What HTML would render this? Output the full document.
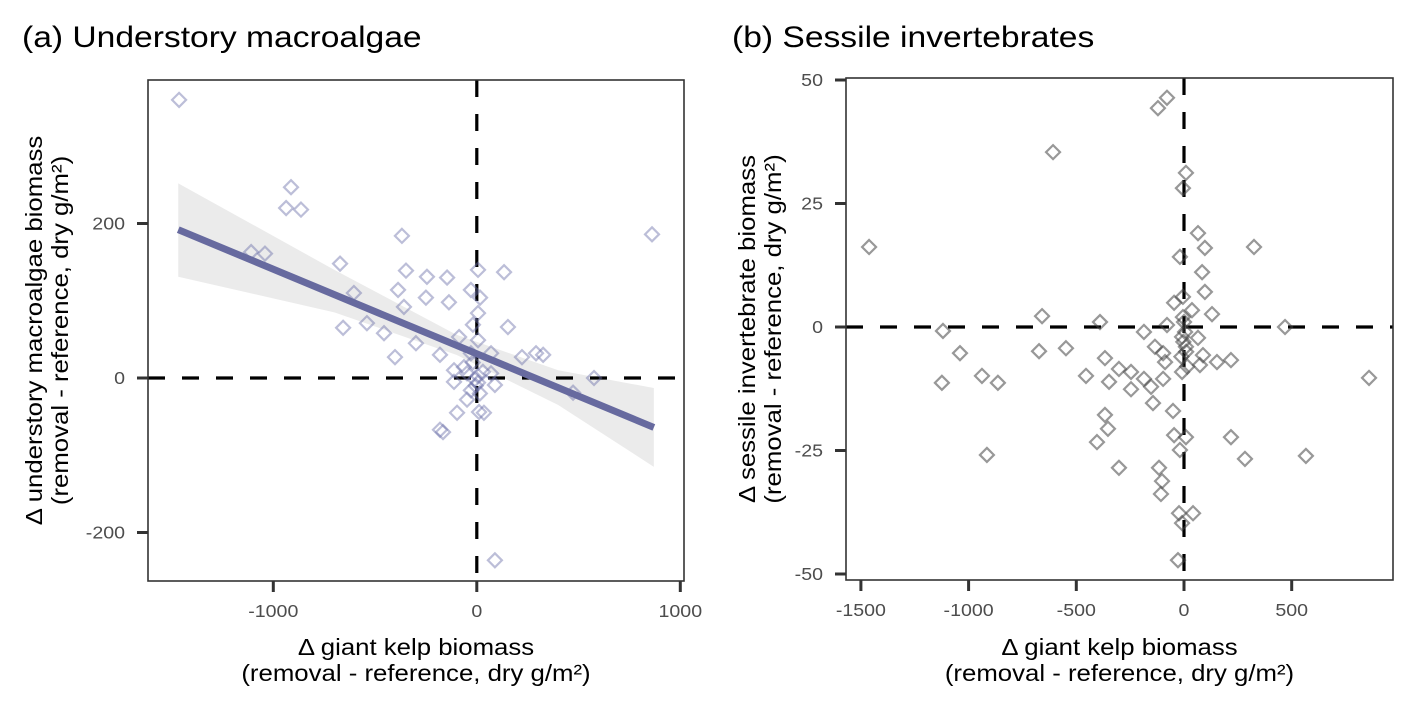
<!DOCTYPE html>
<html><head><meta charset="utf-8"><style>
html,body{margin:0;padding:0;background:#fff;}
svg{display:block;font-family:"Liberation Sans",Arial,sans-serif;}
</style></head><body>
<svg id="chart" width="1417" height="708" viewBox="0 0 1417 708"></svg>
<script>
// Panel (a) data
const aX = [-1463,-913,-937,-864,-368,861,-1109,-1041,-672,-348,-245,-146,6,134,-387,-29,-604,-250,-137,16,-358,6,-540,-657,-456,-19,153,-299,-87,6,-181,-402,70,222,291,326,-112,-48,576,-112,6,89,-29,473,-48,-97,11,35,-181,-166,89,-63,30,-29,70,-10,5,-20,15,-5];
const aY = [360,247,220,218,184,186,163,161,148,139,131,130,140,137,114,114,110,104,98,104,92,84,71,65,58,69,66,45,53,49,30,27,32,27,32,30,10,6,0,-5,-6,-9,-16,-19,-28,-45,-44,-45,-67,-70,-236,14,8,32,6,-2,3,20,-20,-10];
const fitX = [-1467, 870];
const fitY = [192, -64];
const bandX = [-1467, -700, -100, 400, 870];
const bandHi = [252, 140, 56, 10, -13];
const bandLo = [131, 85, 30, -35, -115];
const aXTicks = [-1000, 0, 1000];
const aYTicks = [-200, 0, 200];
// Panel (b) data
const bX = [-79,-121,-608,9,-5,-1462,65,97,325,-19,84,97,-5,-46,37,130,-659,-5,-390,469,-1119,-79,-186,65,-9,-1040,-673,-548,-135,-97,9,-367,88,153,218,-88,74,-302,-246,-9,-455,-938,-1124,-864,859,-348,-186,-97,-246,-153,-144,-51,-367,-353,-404,-46,9,-19,218,-915,283,566,-302,-116,-102,-107,-23,42,-9,-28,5,-3,10,0,-12,15];
const bY = [46.4,44.3,35.4,31.2,28.1,16.2,19,16,16.2,14.2,11.1,7.1,6.1,4.9,3.4,2.6,2.2,2,1,0,-0.8,0.4,-1,-2.2,-2,-5.3,-4.9,-4.3,-4,-5.3,-4,-6.3,-5.7,-7.1,-6.7,-7.1,-7.7,-8.5,-9.1,-9.1,-9.9,-9.9,-11.3,-11.3,-10.3,-11.1,-10.5,-10.5,-12.6,-12.1,-15.4,-17,-17.8,-20.6,-23.3,-21.9,-22.3,-24.9,-22.3,-25.9,-26.7,-26.1,-28.5,-28.5,-31.2,-33.8,-37.7,-37.7,-39.7,-47.2,-1,-3,-5,1,-6,-8];
const bXTicks = [-1500, -1000, -500, 0, 500];
const bYTicks = [-50, -25, 0, 25, 50];

const NS = "http://www.w3.org/2000/svg";
const svg = document.getElementById('chart');
const WIDEN = 1.12;
function mk(tag, attrs, parent, txt){
  const e = document.createElementNS(NS, tag);
  for (const k in attrs) e.setAttribute(k, attrs[k]);
  if (txt !== undefined) e.textContent = txt;
  (parent || svg).appendChild(e);
  if (tag === 'text') {
    const w = e.getComputedTextLength();
    if (w > 0) {
      e.setAttribute('textLength', (w * WIDEN).toFixed(1));
      e.setAttribute('lengthAdjust', 'spacingAndGlyphs');
    }
  }
  return e;
}
function lin(d0, d1, r0, r1){ return v => r0 + (v - d0) * (r1 - r0) / (d1 - d0); }

function panel(opt){
  const g = mk('g', {});
  
  
  const sx = opt.sx, sy = opt.sy;
  const L = opt.L, R = opt.R, T = opt.T, B = opt.B;
  if (opt.band) {
    let pts = [];
    bandX.forEach((x, i) => pts.push(sx(x) + ',' + sy(bandHi[i])));
    for (let i = bandX.length - 1; i >= 0; i--) pts.push(sx(bandX[i]) + ',' + sy(bandLo[i]));
    const p = mk('polygon', {points: pts.join(' '), fill: '#ebebeb'}, g);
    
    
  }
  const hl = mk('line', {x1: L, x2: R, y1: sy(0), y2: sy(0), stroke: '#000', 'stroke-width': 3.2, 'stroke-dasharray': '17,17'}, g);
  
  
  const vl = mk('line', {x1: sx(0), x2: sx(0), y1: T, y2: B, stroke: '#000', 'stroke-width': 3.2, 'stroke-dasharray': '17,17'}, g);
  
  
  opt.xs.forEach((x, i) => {
    const cx = sx(x), cy = sy(opt.ys[i]), r = 7;
    const d = mk('polygon', {points: `${cx},${cy-r} ${cx+r},${cy} ${cx},${cy+r} ${cx-r},${cy}`, fill: 'none', stroke: opt.col, 'stroke-width': 2.2, 'stroke-opacity': opt.op}, g);
    
    
  });
  if (opt.band) {
    const fl = mk('line', {x1: sx(fitX[0]), y1: sy(fitY[0]), x2: sx(fitX[1]), y2: sy(fitY[1]), stroke: '#676a9f', 'stroke-width': 7}, g);
    
    
  }
  const fr = mk('rect', {x: L, y: T, width: R - L, height: B - T, fill: 'none', stroke: '#333', 'stroke-width': 1.6}, g);
  
  
  opt.xt.forEach(t => {
    const x = sx(t);
    const tk = mk('line', {x1: x, x2: x, y1: B, y2: B + 11, stroke: '#333', 'stroke-width': 3}, g);
    
    
    const tl = mk('text', {x: x, y: B + 36, 'text-anchor': 'middle', 'font-size': 17.5, fill: '#4d4d4d'}, g, String(t));
    
    
  });
  opt.yt.forEach(t => {
    const y = sy(t);
    const tk = mk('line', {x1: L - 11, x2: L, y1: y, y2: y, stroke: '#333', 'stroke-width': 3}, g);
    
    
    const tl = mk('text', {x: L - 23, y: y + 6, 'text-anchor': 'end', 'font-size': 17.5, fill: '#4d4d4d'}, g, String(t));
    
    
  });
  const ti = mk('text', {x: opt.titleX, y: 47, 'font-size': 30, fill: '#000'}, g, opt.title);
  
  
  const cx = (L + R) / 2;
  const x1 = mk('text', {x: cx, y: 655, 'text-anchor': 'middle', 'font-size': 23}, g, 'Δ giant kelp biomass');
  
  
  const x2 = mk('text', {x: cx, y: 681, 'text-anchor': 'middle', 'font-size': 23}, g, '(removal - reference, dry g/m²)');
  
  
  const cy = (T + B) / 2;
  const y1 = mk('text', {x: 0, y: 0, 'text-anchor': 'middle', 'font-size': 23, transform: `translate(${opt.yTitleX},${cy}) rotate(-90)`}, g, opt.yTitle);
  
  
  const y2 = mk('text', {x: 0, y: 0, 'text-anchor': 'middle', 'font-size': 23, transform: `translate(${opt.yTitleX + 26},${cy}) rotate(-90)`}, g, '(removal - reference, dry g/m²)');
  
  
}

panel({name: 'panel-a-understory', L: 148, R: 684, T: 80, B: 581,
  sx: lin(0, 1000, 476.8, 680.3), sy: lin(0, 200, 378, 223.5),
  xs: aX, ys: aY, col: '#6b6fa8', op: 0.45, band: true,
  xt: aXTicks, yt: aYTicks, title: '(a) Understory macroalgae', titleX: 22,
  yTitle: 'Δ understory macroalgae biomass', yTitleX: 42});
panel({name: 'panel-b-invertebrates', L: 846, R: 1393, T: 78, B: 580,
  sx: lin(0, 500, 1184, 1291.7), sy: lin(0, 25, 327, 203.5),
  xs: bX, ys: bY, col: '#444', op: 0.55, band: false,
  xt: bXTicks, yt: bYTicks, title: '(b) Sessile invertebrates', titleX: 732,
  yTitle: 'Δ sessile invertebrate biomass', yTitleX: 755});
</script>
</body></html>
